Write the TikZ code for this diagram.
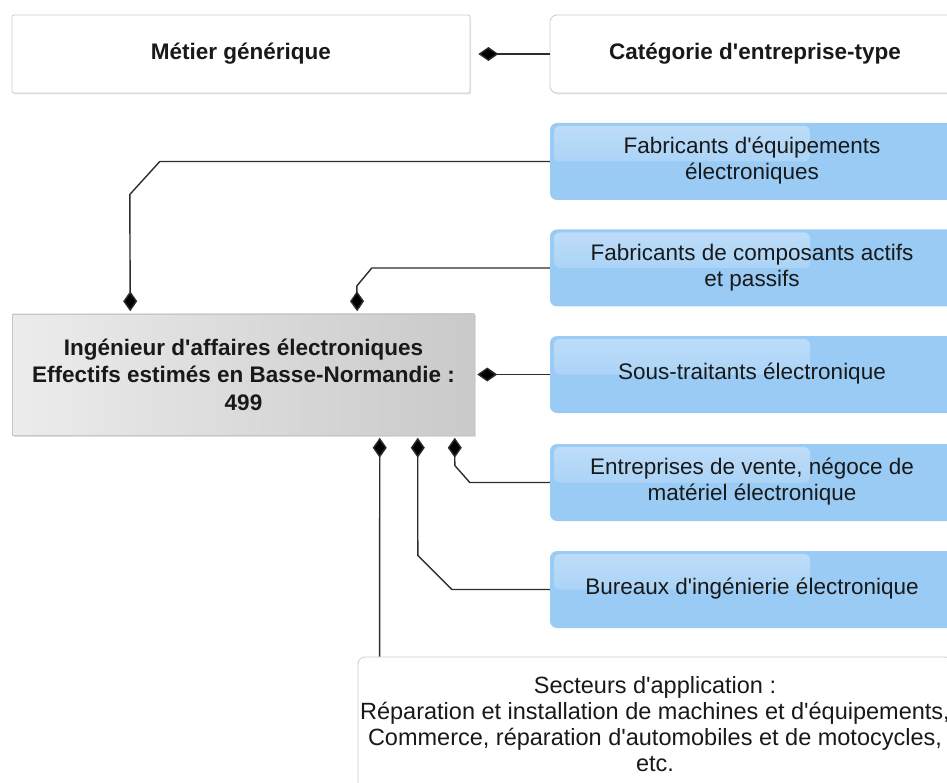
\documentclass[tikz,border=0pt]{standalone}
\usepackage{fontspec}
\setmainfont{Liberation Sans}
\usetikzlibrary{arrows.meta,shadows}
\definecolor{bluefill}{RGB}{153,203,245}
\definecolor{glosscol}{RGB}{200,226,250}
\definecolor{linecol}{RGB}{45,45,45}
\definecolor{textcol}{RGB}{25,25,25}
\newcommand{\boxleftshift}[1]{\begin{tabular}{@{}c@{}}#1\end{tabular}\hspace*{26pt}}
\newcommand{\q}{\textquotesingle}
\begin{document}
\begin{tikzpicture}[x=1pt,y=-1pt,
  basefont/.style={font=\fontsize{22.5}{26}\selectfont, text=textcol},
  whitebox/.style={draw=gray!40, fill=white, line width=0.8pt, inner sep=0pt,
     align=center, basefont, drop shadow={shadow xshift=1pt, shadow yshift=-1.5pt, opacity=.2}},
  bluebox/.style={fill=bluefill, rounded corners=7pt, minimum width=430pt, minimum height=77pt,
     inner sep=0pt, align=center, basefont,
     path picture={\shade[top color=glosscol, bottom color=bluefill, opacity=.8, rounded corners=6pt]
        ([shift={(4pt,-3pt)}]path picture bounding box.north west) rectangle
        ([shift={(260pt,0pt)}]path picture bounding box.west);}},
  graybox/.style={left color=gray!15, right color=gray!42, draw=gray!45, line width=0.5pt,
     minimum width=462pt, minimum height=121pt, inner sep=0pt, align=center,
     font=\bfseries\fontsize{22.5}{27.5}\selectfont, text=textcol,
     drop shadow={shadow xshift=1pt, shadow yshift=-1.5pt, opacity=.25}},
  conn/.style={draw=linecol, line width=1.4pt, -{Diamond[length=20pt,width=14pt,fill=black]}, shorten >=2.5pt},
]
\useasboundingbox (0,0) rectangle (947,783);
\clip (0,0) rectangle (947,783);

% header boxes
\node[whitebox, rounded corners=2pt, minimum width=458pt, minimum height=78pt,
      font=\bfseries\fontsize{22.5}{26}\selectfont] (metier) at (241,54) {Métier générique};
\node[whitebox, rounded corners=7pt, minimum width=410pt, minimum height=78pt,
      font=\bfseries\fontsize{22.5}{26}\selectfont] (cat) at (755,54) {Catégorie d\q entreprise-type};

% main box
\node[graybox] (main) at (243.5,374.5) {Ingénieur d\q affaires électroniques\\Effectifs estimés en Basse-Normandie :\\499};

% blue boxes
\node[bluebox] (fab1) at (765,161.5) {\boxleftshift{Fabricants d\q équipements\\électroniques}};
\node[bluebox] (fab2) at (765,268) {\boxleftshift{Fabricants de composants actifs\\et passifs}};
\node[bluebox] (sous) at (765,374.5) {\boxleftshift{Sous-traitants électronique}};
\node[bluebox] (ent)  at (765,482.5) {\boxleftshift{Entreprises de vente, négoce de\\matériel électronique}};
\node[bluebox] (bur)  at (765,589.5) {\boxleftshift{Bureaux d\q ingénierie électronique}};

% bottom box
\node[whitebox, rounded corners=7pt, minimum width=594pt, minimum height=134pt,
      font=\fontsize{23.5}{26}\selectfont] (sect) at (655,724)
  {Secteurs d\q application :\\Réparation et installation de machines et d\q équipements,\\Commerce, réparation d\q automobiles et de motocycles,\\etc.};

% connectors
\draw[conn, shorten >=8pt] (cat.west) -- (metier.east);
\draw[conn] (fab1.west) -- ++(-390,0) -- ++(-30,33) -- ([xshift=118pt]main.north west);
\draw[conn] (fab2.west) -- ++(-178,0) -- ++(-15,18) -- ([xshift=345pt]main.north west);
\draw[conn] (sous.west) -- (main.east);
\draw[conn] (ent.west) -- ++(-80,0) -- ++(-15,-17) -- ([xshift=-20pt]main.south east);
\draw[conn] (bur.west) -- ++(-98,0) -- ++(-34,-34) -- ([xshift=-57pt]main.south east);
\draw[conn] ([xshift=22pt]sect.north west) -- ([xshift=-95pt]main.south east);
\end{tikzpicture}
\end{document}
